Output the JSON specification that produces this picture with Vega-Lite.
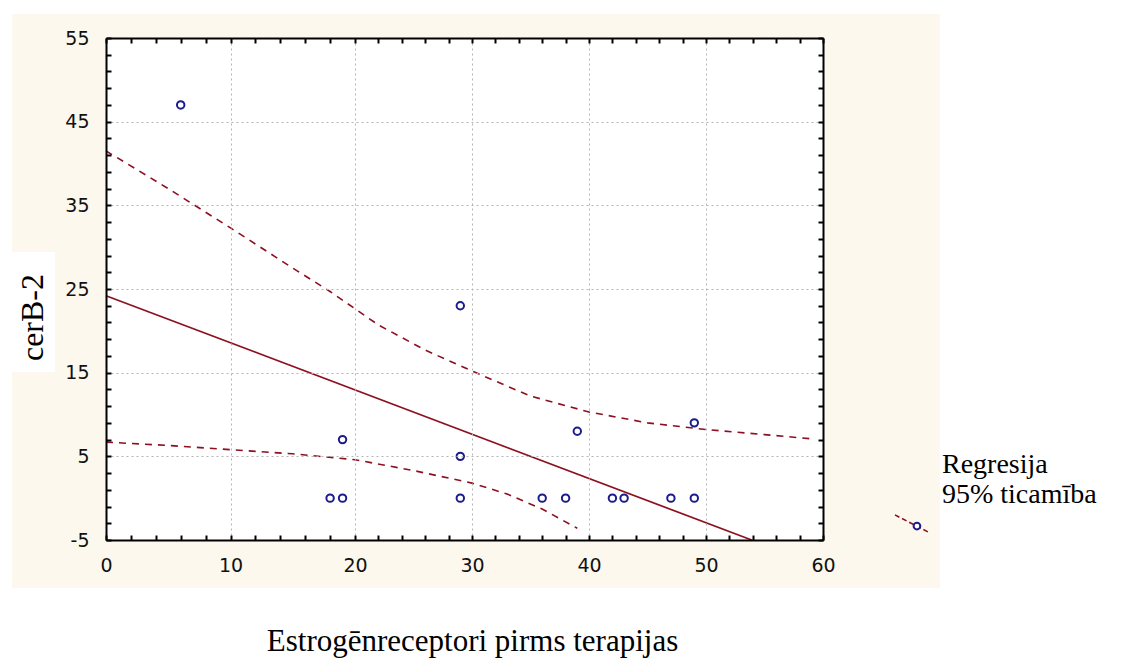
{
  "$schema": "https://vega.github.io/schema/vega-lite/v6.json",
  "width": 717,
  "height": 502,
  "autosize": {"type": "none"},
  "padding": {"left": 106, "top": 38, "right": 298, "bottom": 120},
  "background": "white",
  "config": {"view": {"stroke": null}},
  "resolve": {"axis": {"x": "independent", "y": "independent"}},
  "layer": [
    {
      "data": {"values": [{}]},
      "mark": {"type": "rect", "color": "#fcf8ee"},
      "encoding": {
        "x": {"datum": -7.55, "type": "quantitative", "scale": {"domain": [0, 20, 60], "range": [0, 249, 717], "nice": false, "zero": false}, "axis": null},
        "x2": {"datum": 70},
        "y": {"datum": 57.87, "type": "quantitative", "scale": {"domain": [-5, 55], "nice": false, "zero": false}, "axis": null},
        "y2": {"datum": -10.73}
      }
    },
    {
      "data": {"values": [{}]},
      "mark": {"type": "rect", "color": "white"},
      "encoding": {
        "x": {"datum": -7.55, "type": "quantitative", "scale": {"domain": [0, 20, 60], "range": [0, 249, 717], "nice": false, "zero": false}, "axis": null},
        "x2": {"datum": -4.1},
        "y": {"datum": 29.42, "type": "quantitative", "scale": {"domain": [-5, 55], "nice": false, "zero": false}, "axis": null},
        "y2": {"datum": 15.08}
      }
    },
    {
      "data": {"values": [{}]},
      "mark": {"type": "rect", "color": "white"},
      "encoding": {
        "x": {"datum": 0, "type": "quantitative", "scale": {"domain": [0, 20, 60], "range": [0, 249, 717], "nice": false, "zero": false},
          "axis": {"orient": "top", "values": [0,2,4,6,8,10,12,14,16,18,20,22,24,26,28,30,32,34,36,38,40,42,44,46,48,50,52,54,56,58,60], "labels": false, "grid": false, "ticks": true, "tickSize": -5, "tickWidth": 2, "tickColor": "black", "domain": true, "domainColor": "black", "domainWidth": 2, "title": null, "zindex": 1}},
        "x2": {"datum": 60},
        "y": {"datum": 55, "type": "quantitative", "scale": {"domain": [-5, 55], "nice": false, "zero": false},
          "axis": {"orient": "right", "values": [-5,-3,-1,1,3,5,7,9,11,13,15,17,19,21,23,25,27,29,31,33,35,37,39,41,43,45,47,49,51,53,55], "labels": false, "grid": false, "ticks": true, "tickSize": -5, "tickWidth": 2, "tickColor": "black", "domain": true, "domainColor": "black", "domainWidth": 2, "title": null, "zindex": 1}},
        "y2": {"datum": -5}
      }
    },
    {
      "data": {"values": [{"x": 0, "y": 24.2}, {"x": 53.9, "y": -5}]},
      "mark": {"type": "line", "color": "#8c1020", "strokeWidth": 1.7},
      "encoding": {
        "x": {"field": "x", "type": "quantitative", "scale": {"domain": [0, 20, 60], "range": [0, 249, 717], "nice": false, "zero": false}, "axis": null},
        "y": {"field": "y", "type": "quantitative", "scale": {"domain": [-5, 55], "nice": false, "zero": false}, "axis": null}
      }
    },
    {
      "data": {"values": [
        {"s": "upper", "x": 0, "y": 41.5}, {"s": "upper", "x": 5, "y": 37}, {"s": "upper", "x": 10, "y": 32.3}, {"s": "upper", "x": 15, "y": 27.5}, {"s": "upper", "x": 18, "y": 24.7}, {"s": "upper", "x": 22, "y": 20.7}, {"s": "upper", "x": 26, "y": 17.7}, {"s": "upper", "x": 30, "y": 15.2}, {"s": "upper", "x": 35, "y": 12.2}, {"s": "upper", "x": 40, "y": 10.3}, {"s": "upper", "x": 45, "y": 9.0}, {"s": "upper", "x": 50, "y": 8.2}, {"s": "upper", "x": 55, "y": 7.6}, {"s": "upper", "x": 59, "y": 7.1},
        {"s": "lower", "x": 0, "y": 6.7}, {"s": "lower", "x": 5, "y": 6.3}, {"s": "lower", "x": 10, "y": 5.8}, {"s": "lower", "x": 15, "y": 5.3}, {"s": "lower", "x": 20, "y": 4.6}, {"s": "lower", "x": 25, "y": 3.3}, {"s": "lower", "x": 30, "y": 1.8}, {"s": "lower", "x": 33, "y": 0.5}, {"s": "lower", "x": 36, "y": -1.3}, {"s": "lower", "x": 39, "y": -3.6}
      ]},
      "mark": {"type": "line", "color": "#8c1020", "strokeWidth": 1.6, "strokeDash": [7, 6]},
      "encoding": {
        "x": {"field": "x", "type": "quantitative", "scale": {"domain": [0, 20, 60], "range": [0, 249, 717], "nice": false, "zero": false}, "axis": null},
        "y": {"field": "y", "type": "quantitative", "scale": {"domain": [-5, 55], "nice": false, "zero": false}, "axis": null},
        "detail": {"field": "s"}
      }
    },
    {
      "data": {"values": [
        {"x": 6, "y": 47}, {"x": 29, "y": 23}, {"x": 19, "y": 7}, {"x": 18, "y": 0}, {"x": 19, "y": 0}, {"x": 29, "y": 5}, {"x": 29, "y": 0}, {"x": 36, "y": 0}, {"x": 38, "y": 0}, {"x": 39, "y": 8}, {"x": 42, "y": 0}, {"x": 43, "y": 0}, {"x": 47, "y": 0}, {"x": 49, "y": 0}, {"x": 49, "y": 9}
      ]},
      "mark": {"type": "point", "shape": "circle", "filled": false, "color": "#1c1c8a", "size": 55, "strokeWidth": 2, "opacity": 1},
      "encoding": {
        "x": {"field": "x", "type": "quantitative", "scale": {"domain": [0, 20, 60], "range": [0, 249, 717], "nice": false, "zero": false},
          "axis": {"orient": "bottom", "values": [0,2,4,6,8,10,12,14,16,18,20,22,24,26,28,30,32,34,36,38,40,42,44,46,48,50,52,54,56,58,60],
            "labelExpr": "datum.value % 10 === 0 ? '' + datum.value : ''", "labelFlush": false, "labelOverlap": false, "labelFont": "DejaVu Sans", "labelFontSize": 19, "labelColor": "#111111", "labelPadding": 21,
            "grid": true, "gridColor": "#b4b4b4", "gridDash": [2, 3], "gridWidth": 1, "gridOpacity": {"condition": {"test": "datum.value % 10 === 0", "value": 1}, "value": 0},
            "ticks": true, "tickSize": -5, "tickWidth": 2, "tickColor": "black", "domain": true, "domainColor": "black", "domainWidth": 2,
            "title": "Estrogēnreceptori pirms terapijas", "titleFont": "Liberation Serif", "titleFontSize": 31, "titleFontWeight": "normal", "titleColor": "black", "titleX": 366, "titleY": 110, "titleBaseline": "alphabetic", "titleAlign": "center", "zindex": 1}},
        "y": {"field": "y", "type": "quantitative", "scale": {"domain": [-5, 55], "nice": false, "zero": false},
          "axis": {"orient": "left", "values": [-5,-3,-1,1,3,5,7,9,11,13,15,17,19,21,23,25,27,29,31,33,35,37,39,41,43,45,47,49,51,53,55],
            "labelExpr": "(datum.value + 5) % 10 === 0 ? '' + datum.value : ''", "labelFlush": false, "labelOverlap": false, "labelFont": "DejaVu Sans", "labelFontSize": 19, "labelColor": "#111111", "labelPadding": 22,
            "grid": true, "gridColor": "#b4b4b4", "gridDash": [2, 3], "gridWidth": 1, "gridOpacity": {"condition": {"test": "(datum.value + 5) % 10 === 0", "value": 1}, "value": 0},
            "ticks": true, "tickSize": -5, "tickWidth": 2, "tickColor": "black", "domain": true, "domainColor": "black", "domainWidth": 2,
            "title": "cerB-2", "titleFont": "Liberation Serif", "titleFontSize": 32, "titleFontWeight": "normal", "titleColor": "black", "titleX": -64, "titleY": 279, "titleAngle": 270, "titleBaseline": "alphabetic", "titleAlign": "center", "zindex": 1}}
      }
    },
    {
      "data": {"values": [{"x": 66.15, "y": -2.0}, {"x": 69.15, "y": -4.16}]},
      "mark": {"type": "line", "color": "#8c1020", "strokeWidth": 1.6, "strokeDash": [5, 3]},
      "encoding": {
        "x": {"field": "x", "type": "quantitative", "scale": {"domain": [0, 20, 60], "range": [0, 249, 717], "nice": false, "zero": false}, "axis": null},
        "y": {"field": "y", "type": "quantitative", "scale": {"domain": [-5, 55], "nice": false, "zero": false}, "axis": null}
      }
    },
    {
      "data": {"values": [{"x": 68.03, "y": -3.33}]},
      "mark": {"type": "point", "shape": "circle", "filled": true, "fill": "white", "stroke": "#1c1c8a", "size": 45, "strokeWidth": 2, "opacity": 1},
      "encoding": {
        "x": {"field": "x", "type": "quantitative", "scale": {"domain": [0, 20, 60], "range": [0, 249, 717], "nice": false, "zero": false}, "axis": null},
        "y": {"field": "y", "type": "quantitative", "scale": {"domain": [-5, 55], "nice": false, "zero": false}, "axis": null}
      }
    },
    {
      "data": {"values": [{}]},
      "mark": {"type": "text", "text": ["Regresija", "95% ticamība"], "font": "Liberation Serif", "fontSize": 28, "lineHeight": 30, "align": "left", "baseline": "alphabetic", "color": "black"},
      "encoding": {
        "x": {"datum": 70.17, "type": "quantitative", "scale": {"domain": [0, 20, 60], "range": [0, 249, 717], "nice": false, "zero": false}, "axis": null},
        "y": {"datum": 3.0, "type": "quantitative", "scale": {"domain": [-5, 55], "nice": false, "zero": false}, "axis": null}
      }
    }
  ]
}
